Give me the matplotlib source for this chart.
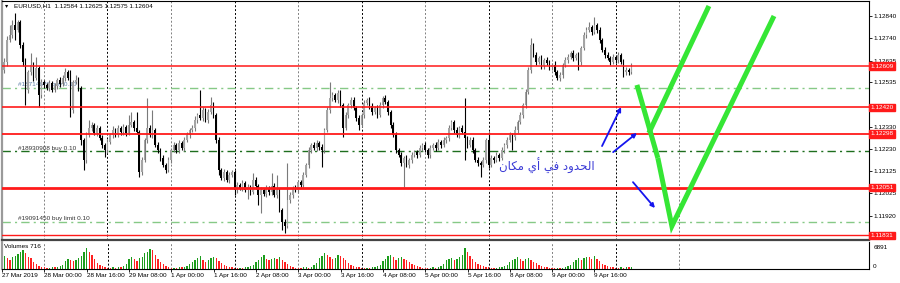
import numpy as np
import matplotlib
matplotlib.use('Agg')
import matplotlib.pyplot as plt

# EURUSD H1, 27 Mar 2019 08:00 .. 10 Apr 2019 06:00
# prices in points above 1.12000 (1 point = 0.00001)
first_open = 560
close_pts = [
    592, 628, 730, 753, 799, 776, 812, 707, 628, 500,
    582, 615, 555, 601, 477, 536, 523, 509, 532, 500,
    518, 546, 527, 555, 582, 555, 408, 536, 546, 509,
    270, 178, 293, 325, 339, 302, 325, 279, 247, 224,
    260, 293, 316, 293, 325, 306, 329, 302, 339, 352,
    325, 306, 122, 178, 270, 325, 293, 316, 247, 224,
    187, 155, 132, 178, 224, 247, 224, 256, 233, 270,
    293, 316, 325, 362, 385, 371, 408, 362, 398, 431,
    385, 270, 132, 95, 122, 86, 109, 122, 40, 63,
    49, 72, 40, 54, 30, 86, 58, 17, 40, 21,
    49, 30, 58, 17, 40, -52, -107, -126, -6, 17,
    49, 40, 76, 63, 109, 155, 224, 247, 233, 256,
    237, 224, 316, 408, 463, 477, 454, 486, 431, 325,
    385, 431, 454, 417, 371, 339, 385, 440, 454, 426,
    398, 417, 385, 431, 463, 444, 398, 339, 293, 224,
    201, 164, 187, 155, 178, 201, 214, 201, 233, 247,
    224, 201, 233, 247, 233, 260, 247, 270, 279, 325,
    352, 316, 293, 325, 306, 279, 247, 270, 224, 178,
    164, 155, 178, 270, 155, 187, 178, 201, 187, 224,
    247, 270, 293, 283, 316, 352, 385, 431, 490, 592,
    707, 661, 628, 647, 610, 638, 624, 605, 615, 582,
    555, 569, 615, 638, 651, 670, 647, 661, 628, 693,
    753, 776, 789, 766, 799, 776, 730, 684, 661, 647,
    628, 651, 638, 661, 628, 582, 592, 584, 604,
]
wick_up = [
    14, 20, 18, 46, 23, 55, 8, 10, 15, 18,
    12, 55, 14, 51, 9, 16, 12, 10, 14, 11,
    13, 9, 15, 12, 19, 10, 37, 8, 23, 12,
    10, 8, 15, 37, 12, 9, 14, 10, 12, 8,
    13, 10, 16, 9, 12, 11, 15, 10, 46, 46,
    12, 73, 10, 14, 9, 138, 12, 92, 10, 13,
    9, 12, 10, 15, 11, 14, 9, 16, 10, 12,
    14, 10, 12, 16, 9, 115, 14, 11, 13, 36,
    12, 10, 14, 9, 15, 11, 13, 10, 12, 16,
    9, 14, 11, 12, 10, 32, 13, 9, 15, 11,
    14, 10, 60, 12, 69, 11, 9, 13, 170, 12,
    10, 14, 12, 9, 15, 11, 13, 10, 14, 12,
    9, 15, 11, 14, 73, 12, 10, 16, 13, 9,
    14, 11, 12, 15, 10, 13, 9, 16, 11, 12,
    14, 10, 13, 12, 9, 16, 11, 10, 14, 12,
    9, 15, 11, 13, 10, 14, 12, 9, 15, 11,
    13, 10, 14, 9, 12, 16, 11, 13, 10, 14,
    12, 9, 15, 11, 14, 157, 10, 13, 12, 9,
    14, 11, 13, 10, 36, 12, 9, 15, 11, 13,
    10, 14, 12, 9, 16, 11, 13, 10, 14, 12,
    32, 10, 15, 11, 13, 9, 14, 12, 10, 16,
    11, 13, 9, 15, 12, 10, 14, 11, 13, 9,
    15, 12, 23, 10, 36, 11, 13, 9, 14, 12,
    10, 15, 11, 13, 9, 14, 12, 10, 21,
]
wick_dn = [
    12, 15, 20, 10, 14, 46, 9, 12, 16, 69,
    14, 11, 13, 10, 56, 12, 15, 9, 13, 11,
    10, 14, 12, 9, 15, 11, 33, 13, 10, 14,
    23, 46, 12, 9, 14, 11, 13, 10, 15, 33,
    12, 10, 14, 11, 9, 13, 12, 15, 10, 11,
    14, 9, 23, 12, 10, 14, 11, 13, 9, 15,
    12, 10, 14, 11, 13, 9, 15, 12, 10, 14,
    11, 13, 9, 15, 12, 10, 14, 11, 13, 9,
    15, 12, 23, 10, 14, 11, 13, 9, 23, 12,
    10, 14, 11, 40, 12, 9, 15, 46, 83, 10,
    13, 11, 14, 9, 12, 10, 37, 32, 11, 14,
    12, 9, 15, 11, 13, 10, 14, 12, 9, 15,
    11, 79, 13, 10, 14, 12, 9, 15, 11, 42,
    10, 13, 12, 9, 14, 23, 11, 13, 10, 15,
    12, 9, 14, 11, 13, 10, 15, 12, 9, 14,
    11, 13, 111, 10, 15, 12, 9, 14, 11, 13,
    10, 14, 12, 9, 15, 11, 13, 10, 14, 12,
    9, 15, 11, 13, 10, 101, 12, 9, 14, 11,
    13, 56, 10, 15, 12, 9, 14, 11, 13, 10,
    15, 12, 9, 59, 11, 13, 10, 14, 12, 9,
    14, 11, 13, 10, 15, 12, 9, 14, 11, 13,
    10, 14, 12, 9, 15, 11, 13, 10, 36, 12,
    9, 14, 11, 13, 10, 15, 12, 9, 14, 11,
    13, 10, 15, 12, 9, 23, 11, 14, 9,
]
volumes = [
    # 27 Mar 08:00-23:00
    3000, 4100, 3500, 2800, 3600, 3900, 4700, 5300, 5900, 5000, 3800, 3400, 2200, 1500, 1000, 700,
    # 28 Mar
    500, 380, 450, 600, 520, 700, 850, 1300, 2500, 3200, 2700, 2400,
    2900, 3300, 4200, 5200, 6500, 5400, 4300, 3100, 2000, 1400, 900, 700,
    # 29 Mar
    450, 350, 500, 420, 600, 550, 900, 1600, 3000, 3600, 3100, 2600,
    3300, 3800, 4900, 5400, 6200, 5800, 4400, 3200, 2300, 1500, 1000, 600,
    # 1 Apr
    300, 450, 380, 520, 480, 700, 1000, 1500, 2300, 2900, 3400, 4000,
    2900, 2300, 2800, 3400, 3800, 3300, 2600, 1900, 1300, 900, 650, 500,
    # 2 Apr
    350, 280, 420, 380, 500, 650, 900, 1300, 2300, 2800, 3600, 4300,
    3200, 2700, 3100, 3400, 3000, 3800, 2900, 2100, 1500, 1000, 700, 450,
    # 3 Apr
    400, 330, 480, 520, 450, 700, 1100, 2000, 3500, 4200, 5100, 4300,
    3600, 3000, 3400, 4500, 4000, 3300, 2700, 1900, 1400, 1000, 700, 500,
    # 4 Apr
    380, 300, 450, 400, 550, 600, 900, 1400, 2600, 3200, 3900, 4500,
    3600, 2800, 3300, 3700, 3200, 2700, 2200, 1600, 1100, 800, 600, 450,
    # 5 Apr
    350, 300, 400, 480, 420, 600, 950, 1500, 2700, 3100, 3500, 2900,
    3200, 3700, 4400, 6500, 5300, 4200, 3100, 2300, 1700, 1200, 800, 600,
    # 8 Apr
    500, 400, 350, 450, 500, 600, 850, 1300, 2200, 2700, 3200, 3800,
    3000, 2600, 3100, 3400, 2900, 2300, 1800, 1300, 900, 650, 500, 400,
    # 9 Apr
    350, 300, 400, 380, 450, 550, 850, 1300, 2200, 2900, 3300, 2800,
    3500, 3800, 3600, 3200, 3900, 3000, 2500, 1700, 1200, 900, 700, 500,
    # 10 Apr 00:00-06:00
    400, 350, 500, 420, 600, 550, 716,
]

time_ticks = [0, 16, 32, 48, 64, 80, 96, 112, 128, 144, 160, 176, 192, 208, 224]
time_labels = ['27 Mar 2019', '28 Mar 00:00', '28 Mar 16:00', '29 Mar 08:00', '1 Apr 00:00',
               '1 Apr 16:00', '2 Apr 08:00', '3 Apr 00:00', '3 Apr 16:00', '4 Apr 08:00',
               '5 Apr 00:00', '5 Apr 16:00', '8 Apr 08:00', '9 Apr 00:00', '9 Apr 16:00']
day_starts = [16, 40, 64, 88, 112, 136, 160, 184, 208, 232, 256]
price_ticks = [1.12840, 1.12740, 1.12635, 1.12535, 1.12430, 1.12330,
               1.12230, 1.12125, 1.12025, 1.11920]
levels = [1.12609, 1.12420, 1.12298, 1.12051, 1.11831]
orders = [1.12510, 1.12219, 1.11894]
order_names = ['#18714670 buy 0.10', '#18930908 buy 0.10', '#19091450 buy limit 0.10']
note = '\ufee5\ufe8e\ufedc\ufee3 \ufef1\ufe83 \ufef2\ufed3 \ufea9\ufeed\ufeaa\ufea4\ufedf\ufe8d'

FONT = 'Liberation Sans'
FS = 4.6

closes = 1.12 + np.array(close_pts) / 1e5
opens = 1.12 + np.array([first_open] + close_pts[:-1]) / 1e5
highs = np.maximum(opens, closes) + np.array(wick_up) / 1e5
lows = np.minimum(opens, closes) - np.array(wick_dn) / 1e5
x = np.arange(len(closes))
bull = closes >= opens

fig = plt.figure(figsize=(9, 2.83), dpi=100)
ax = fig.add_axes([2/900, 43/283, 867/900, 239/283])
axv = fig.add_axes([2/900, 14/283, 867/900, 27/283])
for a in (ax, axv):
    a.set_xlim(0.13, 327.8)
    for k, d in enumerate(day_starts):
        a.axvline(d, color='#808080' if k % 2 == 0 else 'black', lw=0.7,
                  ls=(0, (2, 2)), zorder=0.5)

ax.set_ylim(1.11810, 1.12909)

# order lines
for p, col in zip(orders, ['#86c986', '#1e6e1e', '#86c986']):
    ax.axhline(p, color=col, lw=1.0, ls=(0, (6, 3, 1.5, 3)), zorder=0.8)
ax.text(6, orders[0] + 0.00002, order_names[0], fontsize=FS, family=FONT,
        color='#5c7ea6', va='bottom', zorder=0.9)
ax.text(6, orders[1] + 0.00002, order_names[1], fontsize=FS, family=FONT,
        color='#333333', va='bottom', zorder=0.9)
ax.text(6, orders[2] + 0.00002, order_names[2], fontsize=FS, family=FONT,
        color='#333333', va='bottom', zorder=0.9)

# candles
ax.vlines(x[bull], lows[bull], highs[bull], color='#7a7a7a', lw=0.8, zorder=2)
ax.vlines(x[~bull], lows[~bull], highs[~bull], color='black', lw=0.8, zorder=2)
body_lo = np.minimum(opens, closes)
body_h = np.maximum(np.abs(closes - opens), 0.000006)
ax.bar(x[bull], body_h[bull], bottom=body_lo[bull], width=0.62, color='#a4a4a4', lw=0, zorder=2.1)
ax.bar(x[~bull], body_h[~bull], bottom=body_lo[~bull], width=0.62, color='black', lw=0, zorder=2.1)

# support / resistance levels
for p, w in zip(levels, [1.1, 1.2, 1.3, 2.0, 1.0]):
    ax.axhline(p, color='#ff1a1a', lw=w, zorder=3)

ax.yaxis.tick_right()
ax.set_yticks(price_ticks)
# 1.12430 sits under the 1.12420 level box
ax.set_yticklabels(['' if p == 1.12430 else '%.5f' % p for p in price_ticks],
                   fontsize=FS, family=FONT)
ax.tick_params(axis='y', length=2, width=0.6, pad=1.5)
ax.set_xticks([])
for p in levels:
    ax.text(1.002, p, '%.5f' % p, transform=ax.get_yaxis_transform(), fontsize=FS,
            family=FONT, color='white', va='center', ha='left', zorder=6,
            bbox=dict(facecolor='#ff1a1a', edgecolor='#ff1a1a', pad=0.9))

ax.text(3/867, 1 - 5/239, '\u25be', transform=ax.transAxes, fontsize=FS, va='center')
ax.text(12/867, 1 - 5/239, 'EURUSD,H1  1.12584 1.12625 1.12575 1.12604',
        transform=ax.transAxes, fontsize=FS, family=FONT, va='center')

# arrows
for (x0, y0), (x1, y1) in [((226.9, 1.12242), (234.1, 1.12421)),
                           ((231.1, 1.12214), (240.1, 1.12302)),
                           ((238.6, 1.12076), (246.9, 1.11957))]:
    ax.annotate('', xy=(x1, y1), xytext=(x0, y0),
                arrowprops=dict(arrowstyle='-|>', color='#1515ee', lw=1.3,
                                mutation_scale=6, shrinkA=0, shrinkB=0), zorder=5)

# check marks
green = '#35e635'
ax.plot([240.1, 248.0], [1.12523, 1.12187], color=green, lw=3.6, solid_capstyle='butt', zorder=5)
ax.plot([244.6, 267.3], [1.12302, 1.12886], color=green, lw=3.6, solid_capstyle='butt', zorder=5)
ax.plot([248.0, 253.3, 291.9], [1.12187, 1.11874, 1.12840], color=green, lw=3.6,
        solid_capstyle='butt', solid_joinstyle='miter', zorder=5)

ax.text(224.2, 1.12150, note, family='DejaVu Sans', fontsize=8.5, color='#3b3bd6',
        ha='right', va='center', zorder=4)

for s in ['top', 'right']:
    ax.spines[s].set_linewidth(0.8)
ax.spines['left'].set_color('#9a9a9a')
ax.spines['left'].set_linewidth(1.6)
ax.spines['bottom'].set_color('#444444')
ax.spines['bottom'].set_linewidth(1.6)

# volumes
vcol = ['#1c9c1c'] + ['#1c9c1c' if volumes[i] >= volumes[i - 1] else '#ff2020'
                      for i in range(1, len(volumes))]
axv.bar(x, volumes, width=0.5, color=vcol, lw=0, zorder=2)
axv.set_ylim(0, 8400)
axv.yaxis.tick_right()
axv.set_yticks([0, 6891])
axv.set_yticklabels(['0', '6891'], fontsize=FS, family=FONT)
axv.get_yticklabels()[0].set_va('bottom')
axv.tick_params(axis='y', length=0, pad=3)
axv.set_xticks(time_ticks)
axv.set_xticklabels(time_labels, fontsize=FS, family=FONT, ha='left')
axv.tick_params(axis='x', length=2, width=0.6, pad=1)
axv.text(2/867, 1 - 5/27, 'Volumes 716', transform=axv.transAxes, fontsize=FS,
         family=FONT, va='center')
axv.spines['top'].set_visible(False)
axv.spines['left'].set_color('#9a9a9a')
axv.spines['left'].set_linewidth(1.6)
axv.spines['right'].set_linewidth(0.8)
axv.spines['bottom'].set_linewidth(0.8)

fig.savefig('out.png', dpi=100)
